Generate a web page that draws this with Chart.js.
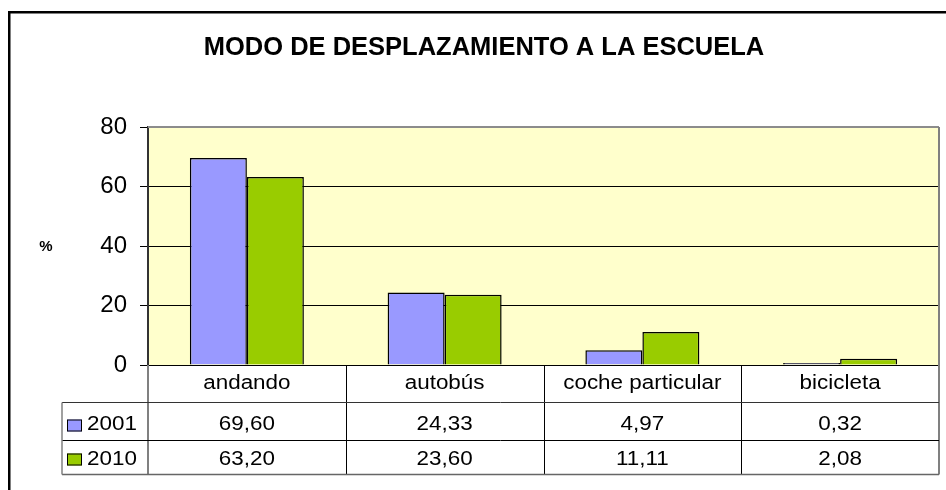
<!DOCTYPE html>
<html>
<head>
<meta charset="utf-8">
<script src="https://cdn.jsdelivr.net/npm/chart.js@4.4.1/dist/chart.umd.min.js"></script>
<style>
  body { margin: 0; background: #fff; }
  #wrap { width: 946px; height: 490px; position: relative; }
</style>
</head>
<body>
<div id="wrap"><canvas id="modo"></canvas></div>
<script>
var categories = ["andando", "autobús", "coche particular", "bicicleta"];
var years = ["2001", "2010"];
var values2001 = [69.60, 24.33, 4.97, 0.32];
var values2010 = [63.20, 23.60, 11.11, 2.08];
var yTicks = [0, 20, 40, 60, 80];
var chartTitle = "MODO DE DESPLAZAMIENTO A LA ESCUELA";
var axisLabel = "%";

var colors = ["#9999FF", "#99CC00"];
var FONT = "'Liberation Sans', Arial, sans-serif";
Chart.defaults.font.family = FONT;

function fmt(v) { return v.toFixed(2).replace('.', ','); }

// the table text in the picture is a bit wider than plain Arial
function wideText(c, txt, x, y, align) {
  c.save();
  c.translate(x, y);
  c.scale(1.15, 1);
  c.textAlign = align;
  c.fillText(txt, 0, 0);
  c.restore();
}

function line(c, x1, y1, x2, y2, color, w) {
  c.beginPath();
  c.strokeStyle = color;
  c.lineWidth = w;
  c.moveTo(x1, y1);
  c.lineTo(x2, y2);
  c.stroke();
}

var framePlugin = {
  id: 'frame',
  beforeDraw: function (chart) {
    var c = chart.ctx, a = chart.chartArea;
    c.save();
    c.fillStyle = '#FFFFCC';
    c.fillRect(a.left, a.top, a.right - a.left, a.bottom - a.top);
    c.restore();
  },
  afterDraw: function (chart) {
    var c = chart.ctx, a = chart.chartArea, x = chart.scales.x;
    var half = (x.getPixelForValue(1) - x.getPixelForValue(0)) / 2;
    var row1 = a.bottom + 37.5, row2 = row1 + 38, rowEnd = row2 + 34;
    var keyLeft = 62;
    c.save();

    // outer frame (runs off the picture right and bottom)
    c.beginPath();
    c.strokeStyle = '#000';
    c.lineWidth = 2.5;
    c.moveTo(9.25, 490);
    c.lineTo(9.25, 12.25);
    c.lineTo(946, 12.25);
    c.stroke();

    // plot border top / right
    line(c, a.left, a.top, a.right, a.top, '#8c8c8c', 2);
    line(c, a.right, a.top, a.right, rowEnd, '#808080', 2);

    // data table lines
    for (var i = 1; i < categories.length; i++) {
      var bx = Math.round(x.getPixelForValue(i) - half) + 0.5;
      line(c, bx, a.bottom, bx, rowEnd, '#000', 1);
    }
    line(c, a.left, a.bottom, a.left, rowEnd, '#808080', 2);
    line(c, keyLeft, row1, a.right, row1, '#333', 1);
    line(c, keyLeft, row2, a.right, row2, '#000', 1);
    line(c, keyLeft, rowEnd, a.right, rowEnd, '#666', 1.5);
    line(c, keyLeft, row1, keyLeft, rowEnd, '#808080', 1.5);

    // table text
    c.fillStyle = '#000';
    c.font = '19.5px ' + FONT;
    c.textBaseline = 'alphabetic';
    var rows = [values2001, values2010];
    var baselines = [row1 + 27, row2 + 24];
    categories.forEach(function (cat, i) {
      var cx = x.getPixelForValue(i);
      wideText(c, cat, cx, a.bottom + 23.5, 'center');
      rows.forEach(function (vals, r) {
        wideText(c, fmt(vals[i]), cx, baselines[r], 'center');
      });
    });
    years.forEach(function (yr, r) {
      var ky = (r === 0 ? row1 : row2) + (r === 0 ? 17 : 13);
      c.fillStyle = colors[r];
      c.fillRect(67, ky, 15, 12);
      c.strokeStyle = '#000';
      c.lineWidth = 1;
      c.strokeRect(67.5, ky + 0.5, 14, 11);
      c.fillStyle = '#000';
      wideText(c, yr, 87, baselines[r], 'left');
    });

    // title and axis label
    c.font = 'bold 25.5px ' + FONT;
    c.textAlign = 'center';
    c.fillText(chartTitle, 484, 55);
    c.font = 'bold 15px ' + FONT;
    c.fillText(axisLabel, 46, 251);
    c.restore();
  }
};

new Chart(document.getElementById('modo'), {
  type: 'bar',
  data: {
    labels: categories,
    datasets: [
      {
        label: years[0],
        data: values2001,
        backgroundColor: colors[0],
        borderColor: '#000',
        borderWidth: 1.5,
        minBarLength: 2
      },
      {
        label: years[1],
        data: values2010,
        backgroundColor: colors[1],
        borderColor: '#000',
        borderWidth: 1.5,
        minBarLength: 2
      }
    ]
  },
  options: {
    responsive: true,
    maintainAspectRatio: false,
    animation: false,
    categoryPercentage: 0.5765,
    barPercentage: 1,
    layout: { padding: { top: 127, right: 7, left: 0, bottom: 0 } },
    plugins: {
      legend: { display: false },
      tooltip: { enabled: false },
      title: { display: false }
    },
    scales: {
      x: {
        ticks: { display: false },
        grid: { display: false },
        border: { display: false },
        afterFit: function (s) { s.height = 125; }
      },
      y: {
        min: 0,
        max: 80,
        afterBuildTicks: function (s) {
          s.ticks = yTicks.map(function (v) { return { value: v }; });
        },
        ticks: { font: { size: 24 }, color: '#000', padding: 13 },
        grid: {
          color: function (ctx) {
            return ctx.tick && ctx.tick.value === 80 ? '#8c8c8c' : '#000';
          },
          tickColor: '#000',
          tickLength: 8
        },
        border: { color: '#333', width: 2 },
        afterFit: function (s) { s.width = 148; }
      }
    }
  },
  plugins: [framePlugin]
});
</script>
</body>
</html>
